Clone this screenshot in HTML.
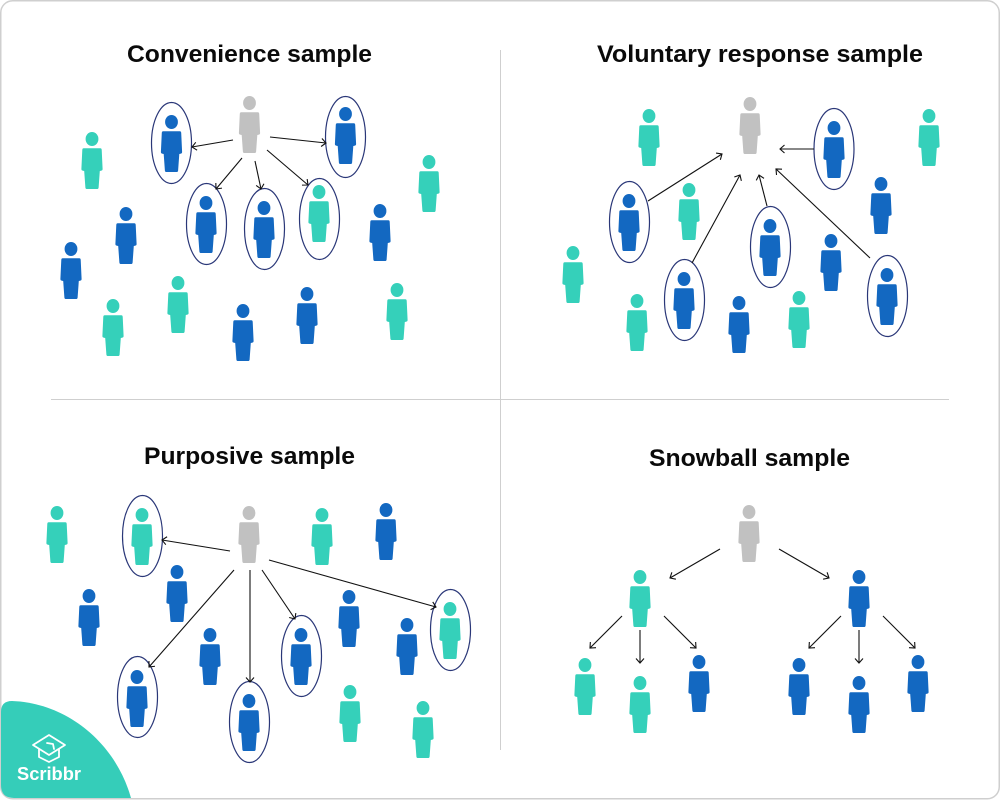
<!DOCTYPE html>
<html>
<head>
<meta charset="utf-8">
<style>
html,body{margin:0;padding:0;background:#fff;width:1000px;height:800px;overflow:hidden}
svg{display:block}
.t{font-family:"Liberation Sans",sans-serif;font-weight:700;font-size:24px;fill:#0a0a0a}
.l{stroke:#111;stroke-width:1.1;fill:none;marker-end:url(#a)}
.e{fill:none;stroke:#2a3778;stroke-width:1.2}
</style>
</head>
<body>
<svg width="1000" height="800" viewBox="0 0 1000 800" xmlns="http://www.w3.org/2000/svg">
<defs>
<marker id="a" markerUnits="userSpaceOnUse" markerWidth="10" markerHeight="10" refX="7" refY="5" orient="auto">
<path d="M2.5 1 L7 5 L2.5 9" fill="none" stroke="#111" stroke-width="1.1"/>
</marker>
<g id="p">
<ellipse cx="0" cy="0" rx="6.4" ry="7"/>
<path d="M-8.5 9.3 H8.5 Q9.6 9.3 9.7 10.6 L10.6 30 Q10.6 31.6 9 31.7 L7.8 32 L6.6 48.6 Q6.5 50 5 50 H-5 Q-6.5 50 -6.6 48.6 L-7.8 32 L-9 31.7 Q-10.6 31.6 -10.6 30 L-9.7 10.6 Q-9.6 9.3 -8.5 9.3 Z"/>
</g>
</defs>
<rect x="0.75" y="0.75" width="998.5" height="798" rx="12" fill="#fff" stroke="#cfcfcf" stroke-width="1.5"/>
<path d="M500.5 50 V750 M51 399.5 H949" stroke="#cfcfcf" stroke-width="1" fill="none"/>

<text class="t" x="127" y="62" textLength="245" lengthAdjust="spacingAndGlyphs">Convenience sample</text>
<text class="t" x="597" y="62" textLength="326" lengthAdjust="spacingAndGlyphs">Voluntary response sample</text>
<text class="t" x="144" y="464" textLength="211" lengthAdjust="spacingAndGlyphs">Purposive sample</text>
<text class="t" x="649" y="466" textLength="201" lengthAdjust="spacingAndGlyphs">Snowball sample</text>

<!-- gray -->
<g fill="#c1c1c1">
<use href="#p" x="249.5" y="103"/><use href="#p" x="750" y="104"/><use href="#p" x="249" y="513"/><use href="#p" x="749" y="512"/>
</g>
<!-- teal -->
<g fill="#35d0ba">
<use href="#p" x="319" y="192"/><use href="#p" x="92" y="139"/><use href="#p" x="113" y="306"/><use href="#p" x="178" y="283"/><use href="#p" x="397" y="290"/><use href="#p" x="429" y="162"/>
<use href="#p" x="649" y="116"/><use href="#p" x="929" y="116"/><use href="#p" x="689" y="190"/><use href="#p" x="573" y="253"/><use href="#p" x="637" y="301"/><use href="#p" x="799" y="298"/>
<use href="#p" x="57" y="513"/><use href="#p" x="142" y="515"/><use href="#p" x="322" y="515"/><use href="#p" x="450" y="609"/><use href="#p" x="350" y="692"/><use href="#p" x="423" y="708"/>
<use href="#p" x="640" y="577"/><use href="#p" x="585" y="665"/><use href="#p" x="640" y="683"/>
</g>
<!-- blue -->
<g fill="#1368c1">
<use href="#p" x="171.5" y="122"/><use href="#p" x="345.5" y="114"/><use href="#p" x="206" y="203"/><use href="#p" x="264" y="208"/><use href="#p" x="126" y="214"/><use href="#p" x="71" y="249"/><use href="#p" x="243" y="311"/><use href="#p" x="307" y="294"/><use href="#p" x="380" y="211"/>
<use href="#p" x="834" y="128"/><use href="#p" x="881" y="184"/><use href="#p" x="629" y="201"/><use href="#p" x="770" y="226"/><use href="#p" x="831" y="241"/><use href="#p" x="684" y="279"/><use href="#p" x="887" y="275"/><use href="#p" x="739" y="303"/>
<use href="#p" x="386" y="510"/><use href="#p" x="177" y="572"/><use href="#p" x="89" y="596"/><use href="#p" x="349" y="597"/><use href="#p" x="210" y="635"/><use href="#p" x="301" y="635"/><use href="#p" x="407" y="625"/><use href="#p" x="137" y="677"/><use href="#p" x="249" y="701"/>
<use href="#p" x="859" y="577"/><use href="#p" x="699" y="662"/><use href="#p" x="799" y="665"/><use href="#p" x="859" y="683"/><use href="#p" x="918" y="662"/>
</g>

<!-- ellipses -->
<g class="e">
<ellipse cx="171.5" cy="143" rx="20" ry="40.5"/><ellipse cx="345.5" cy="137" rx="20" ry="40.5"/><ellipse cx="206.5" cy="224" rx="20" ry="40.5"/><ellipse cx="264.5" cy="229" rx="20" ry="40.5"/><ellipse cx="319.5" cy="219" rx="20" ry="40.5"/>
<ellipse cx="834" cy="149" rx="20" ry="40.5"/><ellipse cx="629.5" cy="222" rx="20" ry="40.5"/><ellipse cx="770.5" cy="247" rx="20" ry="40.5"/><ellipse cx="684.5" cy="300" rx="20" ry="40.5"/><ellipse cx="887.5" cy="296" rx="20" ry="40.5"/>
<ellipse cx="142.5" cy="536" rx="20" ry="40.5"/><ellipse cx="450.5" cy="630" rx="20" ry="40.5"/><ellipse cx="301.5" cy="656" rx="20" ry="40.5"/><ellipse cx="137.5" cy="697" rx="20" ry="40.5"/><ellipse cx="249.5" cy="722" rx="20" ry="40.5"/>
</g>

<!-- connectors -->
<line class="l" x1="233" y1="140" x2="192" y2="147"/>
<line class="l" x1="270" y1="137" x2="326" y2="143"/>
<line class="l" x1="242" y1="158" x2="216" y2="189"/>
<line class="l" x1="255" y1="161" x2="261" y2="189"/>
<line class="l" x1="267" y1="150" x2="308" y2="185"/>

<line class="l" x1="814" y1="149" x2="780" y2="149"/>
<line class="l" x1="648" y1="201" x2="722" y2="154"/>
<line class="l" x1="692" y1="263" x2="740" y2="175"/>
<line class="l" x1="767" y1="206" x2="759" y2="175"/>
<line class="l" x1="870" y1="258" x2="776" y2="169"/>

<line class="l" x1="230" y1="551" x2="162" y2="540"/>
<line class="l" x1="234" y1="570" x2="149" y2="667"/>
<line class="l" x1="250" y1="570" x2="250" y2="682"/>
<line class="l" x1="262" y1="570" x2="295" y2="619"/>
<line class="l" x1="269" y1="560" x2="436" y2="607"/>

<line class="l" x1="720" y1="549" x2="670" y2="578"/>
<line class="l" x1="779" y1="549" x2="829" y2="578"/>
<line class="l" x1="622" y1="616" x2="590" y2="648"/>
<line class="l" x1="640" y1="630" x2="640" y2="663"/>
<line class="l" x1="664" y1="616" x2="696" y2="648"/>
<line class="l" x1="841" y1="616" x2="809" y2="648"/>
<line class="l" x1="859" y1="630" x2="859" y2="663"/>
<line class="l" x1="883" y1="616" x2="915" y2="648"/>

<!-- logo -->
<path d="M1 712 Q1 701 12 701 C68 703 116 744 131 798 L14 798 Q1 798 1 785 Z" fill="#35cdb9"/>
<g fill="none" stroke="#fff" stroke-width="1.8" stroke-linejoin="round" stroke-linecap="round">
<path d="M33 745 L49 735 L65 745 L49 755 Z"/>
<path d="M39 749 V757 L49 762 L59 757 V749"/>
<path d="M47 743 L53 744 L54 749"/>
</g>
<text x="17" y="780" font-family="Liberation Sans, sans-serif" font-weight="700" font-size="18" fill="#fff" textLength="64" lengthAdjust="spacingAndGlyphs">Scribbr</text>
</svg>
</body>
</html>
